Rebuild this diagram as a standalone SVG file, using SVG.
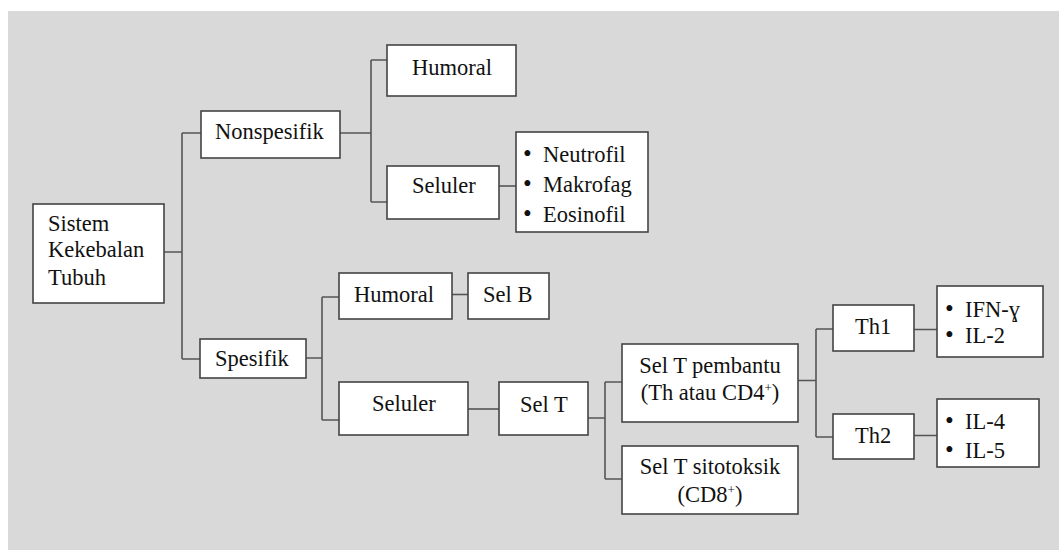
<svg xmlns="http://www.w3.org/2000/svg" width="1059" height="550" viewBox="0 0 1059 550">
<style>
.bg{fill:#d9d9d9}
.box{fill:#fff;stroke:#444;stroke-width:1.6}
.con{fill:none;stroke:#555;stroke-width:1.6}
.t{font-family:'Liberation Serif','Times New Roman','DejaVu Serif',serif;font-size:22.5px;fill:#111}
.c{text-anchor:middle}
.sup{font-size:13px}
.b{font-size:25px}
</style>
<rect width="1059" height="550" fill="#fff"/>
<rect class="bg" x="8" y="11" width="1051" height="539"/>
<g id="connectors">
<path class="con" d="M164,252H182M182,133V359M182,133H201M182,359H200"/>
<path class="con" d="M340,133H371M371,60V202M371,60H387M371,202H387"/>
<path class="con" d="M499,186H516"/>
<path class="con" d="M306,358H322M322,297V420M322,297H339M322,420H339"/>
<path class="con" d="M452,294.5H468"/>
<path class="con" d="M468,409H499"/>
<path class="con" d="M588,418H605M605,382V479M605,382H622M605,479H622"/>
<path class="con" d="M798,380.5H816M816,329V437M816,329H833M816,437H833"/>
<path class="con" d="M914,329.5H937M914,435.5H937"/>
</g>
<g class="t">
<g id="sistem"><rect class="box" x="33" y="204" width="131" height="99"/><text x="48" y="231">Sistem</text><text x="48" y="257">Kekebalan</text><text x="48" y="285">Tubuh</text></g>
<g id="nonspesifik"><rect class="box" x="201" y="111" width="139" height="47"/><text x="215" y="139">Nonspesifik</text></g>
<g id="humoral1"><rect class="box" x="387" y="45" width="129" height="51"/><text x="412" y="75">Humoral</text></g>
<g id="seluler1"><rect class="box" x="387" y="166" width="112" height="53"/><text x="412" y="193">Seluler</text></g>
<g id="list1"><rect class="box" x="516" y="132" width="132" height="100"/>
<text x="523" y="162"><tspan class="b">•</tspan><tspan x="543">Neutrofil</tspan></text>
<text x="523" y="192"><tspan class="b">•</tspan><tspan x="543">Makrofag</tspan></text>
<text x="523" y="222"><tspan class="b">•</tspan><tspan x="543">Eosinofil</tspan></text></g>
<g id="spesifik"><rect class="box" x="200" y="339" width="106" height="39"/><text x="215" y="366">Spesifik</text></g>
<g id="humoral2"><rect class="box" x="339" y="273" width="113" height="46"/><text x="354" y="302">Humoral</text></g>
<g id="selb"><rect class="box" x="468" y="273" width="81" height="46"/><text x="483" y="302">Sel B</text></g>
<g id="seluler2"><rect class="box" x="339" y="382" width="129" height="53"/><text x="372" y="411">Seluler</text></g>
<g id="selt"><rect class="box" x="499" y="382" width="89" height="53"/><text x="520" y="412">Sel T</text></g>
<g id="pembantu"><rect class="box" x="622" y="344" width="176" height="78"/><text class="c" x="710" y="373">Sel T pembantu</text><text class="c" x="710" y="400">(Th atau CD4<tspan class="sup" dy="-8">+</tspan><tspan dy="8">)</tspan></text></g>
<g id="sitotoksik"><rect class="box" x="622" y="446" width="176" height="68"/><text class="c" x="710" y="474">Sel T sitotoksik</text><text class="c" x="710" y="502">(CD8<tspan class="sup" dy="-8">+</tspan><tspan dy="8">)</tspan></text></g>
<g id="th1"><rect class="box" x="833" y="305" width="81" height="46"/><text x="855" y="334">Th1</text></g>
<g id="th2"><rect class="box" x="833" y="414" width="81" height="45"/><text x="855" y="443">Th2</text></g>
<g id="list2"><rect class="box" x="937" y="286" width="106" height="71"/>
<text x="945" y="317"><tspan class="b">•</tspan><tspan x="965">IFN-ɣ</tspan></text>
<text x="945" y="343"><tspan class="b">•</tspan><tspan x="965">IL-2</tspan></text></g>
<g id="list3"><rect class="box" x="937" y="399" width="102" height="68"/>
<text x="945" y="429"><tspan class="b">•</tspan><tspan x="965">IL-4</tspan></text>
<text x="945" y="458"><tspan class="b">•</tspan><tspan x="965">IL-5</tspan></text></g>
</g>
</svg>
